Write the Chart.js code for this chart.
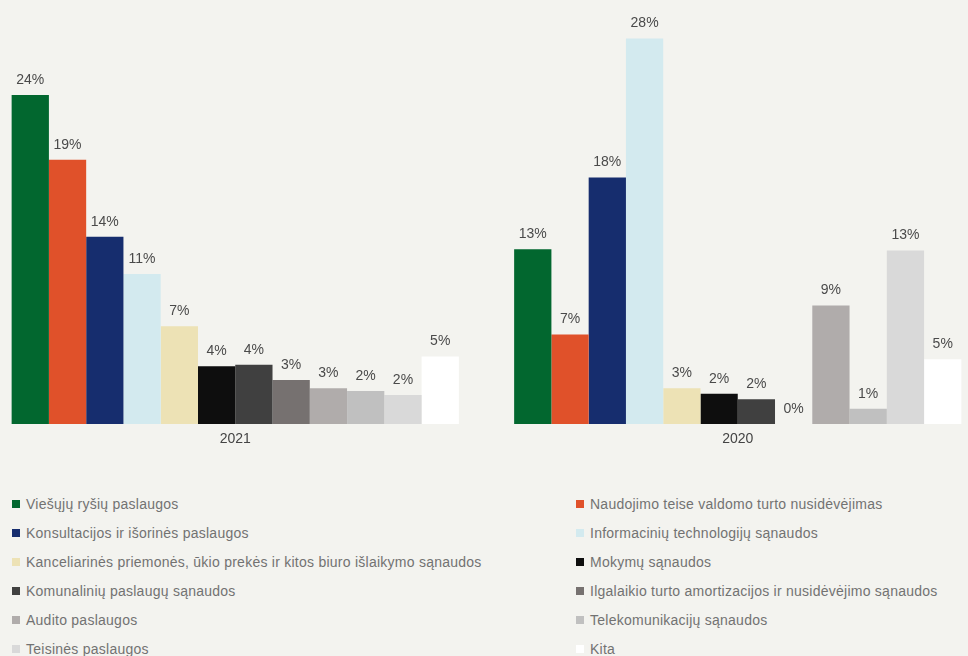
<!DOCTYPE html>
<html>
<head>
<meta charset="utf-8">
<script src="https://cdn.jsdelivr.net/npm/chart.js@4.4.1/dist/chart.umd.min.js"></script>
<style>
  html, body { margin: 0; padding: 0; background: #f3f3ef; width: 968px; height: 656px; overflow: hidden; font-family: "Liberation Sans", Arial, sans-serif; }
  #wrap { position: absolute; left: -16px; top: 0; width: 1005px; height: 460px; }
  #legend { position: absolute; left: 12px; top: 489px; width: 956px; display: grid; grid-template-columns: 564px 1fr; }
  .item { height: 29px; display: flex; align-items: center; font-size: 14px; letter-spacing: 0.25px; color: #727272; white-space: nowrap; }
  .sw { width: 8px; height: 8px; margin-right: 6px; flex: none; }
</style>
</head>
<body>
<div id="wrap"><canvas id="chart"></canvas></div>
<div id="legend"></div>
<script>
// ── Data ──────────────────────────────────────────────
const years = ['2021', '2020'];
const seriesNames = [
  'Viešųjų ryšių paslaugos',
  'Naudojimo teise valdomo turto nusidėvėjimas',
  'Konsultacijos ir išorinės paslaugos',
  'Informacinių technologijų sąnaudos',
  'Kanceliarinės priemonės, ūkio prekės ir kitos biuro išlaikymo sąnaudos',
  'Mokymų sąnaudos',
  'Komunalinių paslaugų sąnaudos',
  'Ilgalaikio turto amortizacijos ir nusidėvėjimo sąnaudos',
  'Audito paslaugos',
  'Telekomunikacijų sąnaudos',
  'Teisinės paslaugos',
  'Kita'
];
const colors = ['#02672f', '#e0512a', '#162d6e', '#d3eaef', '#ede2b5', '#0e0e0e',
                '#404040', '#767170', '#b0acab', '#c0c0c0', '#d9d9d9', '#ffffff'];
const values2021 = [23.9, 19.2, 13.6, 10.9, 7.1, 4.2, 4.3, 3.2, 2.6, 2.4, 2.1, 4.9];
const values2020 = [12.7, 6.5, 17.9, 28.0, 2.6, 2.2, 1.8, 0, 8.6, 1.1, 12.6, 4.7];

const datasets = seriesNames.map((name, i) => ({
  label: name,
  data: [values2021[i], values2020[i]],
  backgroundColor: colors[i],
  borderWidth: 0,
  categoryPercentage: 0.89,
  barPercentage: 1.0,
}));

// value labels above each bar
const valueLabels = {
  id: 'valueLabels',
  afterDatasetsDraw(chart) {
    const ctx = chart.ctx;
    ctx.save();
    ctx.font = '14px "Liberation Sans", Arial, sans-serif';
    ctx.fillStyle = '#4a4a4a';
    ctx.textAlign = 'center';
    ctx.textBaseline = 'middle';
    chart.data.datasets.forEach((ds, i) => {
      chart.getDatasetMeta(i).data.forEach((bar, j) => {
        ctx.fillText(Math.round(ds.data[j]) + '%', bar.x, bar.y - 15);
      });
    });
    ctx.restore();
  }
};

const chart = new Chart(document.getElementById('chart'), {
  type: 'bar',
  data: { labels: years, datasets },
  options: {
    responsive: true, maintainAspectRatio: false, animation: false,
    layout: { padding: 0 },
    plugins: { legend: { display: false }, tooltip: { enabled: false } },
    scales: {
      x: {
        grid: { display: false, drawTicks: false }, border: { display: false },
        ticks: { color: '#444', font: { size: 14, family: '"Liberation Sans", Arial, sans-serif' }, padding: 7 },
        afterFit: s => { s.height = 36; },
      },
      y: { display: false, min: 0, max: 30.8 }
    }
  },
  plugins: [valueLabels]
});

// ── Legend (two columns, row-major) ───────────────────
document.getElementById('legend').innerHTML = chart.data.datasets.map(ds => `
  <div class="item"><span class="sw" style="background:${ds.backgroundColor}"></span>${ds.label}</div>`).join('');
</script>
</body>
</html>
